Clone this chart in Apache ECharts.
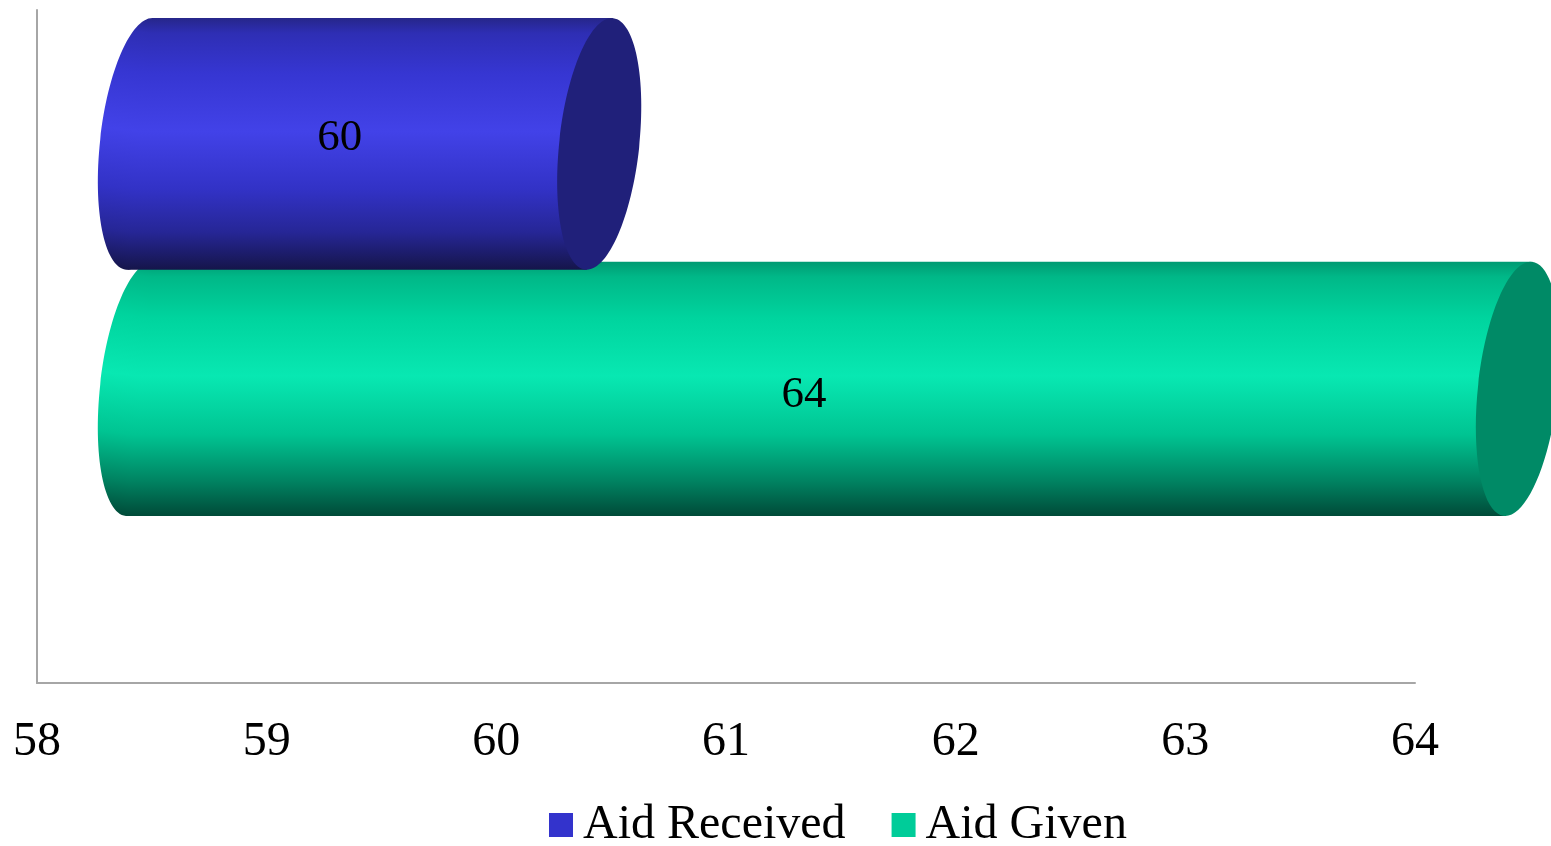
<!DOCTYPE html>
<html>
<head>
<meta charset="utf-8">
<script src="https://cdn.jsdelivr.net/npm/echarts@6/dist/echarts.min.js"></script>
<style>
html,body{margin:0;padding:0;background:#fff;}
#chart{width:1551px;height:846px;}
</style>
</head>
<body>
<div id="chart"></div>
<script>
// ---- data ----
const categories = ['Aid'];
const seriesNames = ['Aid Received', 'Aid Given'];
const aidReceived = [60];
const aidGiven = [64];
const xTicks = [58, 59, 60, 61, 62, 63, 64];

// ---- style ----
const FONT = '"Liberation Serif", "Times New Roman", serif';
const DX = 103;          // 3D depth shift in px
const TILT = -0.11;      // ellipse tilt (rad)

function cylinderRenderer(topFrac, botFrac, capColor, stops, labelDx, labelDy) {
  return function (params, api) {
    const v = api.value(0);
    const cat = api.value(1);
    const start = api.coord([xTicks[0], cat]);
    const end = api.coord([v, cat]);
    const band = api.size([0, 1])[1];
    const bandTop = start[1] - band / 2;
    const top = bandTop + topFrac * band;
    const bot = bandTop + botFrac * band;
    const cy = (top + bot) / 2;
    const H = (bot - top) / 2;
    const rx = 40;
    const c = Math.cos(TILT), s = Math.sin(TILT);
    const ry = Math.sqrt(Math.max(H * H - rx * rx * s * s, 1) / (c * c));
    const tx = (ry * ry - rx * rx) * Math.abs(s) * c / Math.sqrt(ry * ry * c * c + rx * rx * s * s);
    const x0 = start[0] + DX;
    const x1 = end[0] + DX;
    return {
      type: 'group',
      children: [
        {
          type: 'ellipse',
          x: x0, y: cy, rotation: TILT,
          shape: { cx: 0, cy: 0, rx: rx, ry: ry },
          style: { fill: new echarts.graphic.LinearGradient(0, 0, 0, 1, stops) }
        },
        {
          type: 'polygon',
          shape: { points: [[x0 + tx, top], [x1 + tx, top], [x1 - tx, bot], [x0 - tx, bot]] },
          style: { fill: new echarts.graphic.LinearGradient(0, 0, 0, 1, stops) }
        },
        {
          type: 'ellipse',
          x: x1, y: cy, rotation: TILT,
          shape: { cx: 0, cy: 0, rx: rx, ry: ry },
          style: { fill: capColor }
        },
        {
          type: 'text',
          x: (x0 + x1) / 2 + labelDx, y: cy + labelDy,
          style: {
            text: String(v), fill: '#000',
            fontSize: 45, fontFamily: FONT,
            align: 'center', verticalAlign: 'middle'
          }
        }
      ]
    };
  };
}

const blueStops = [
  { offset: 0, color: '#26268a' },
  { offset: 0.06, color: '#2e2eb4' },
  { offset: 0.22, color: '#3636d2' },
  { offset: 0.45, color: '#4242e8' },
  { offset: 0.68, color: '#3232c6' },
  { offset: 0.85, color: '#262696' },
  { offset: 1, color: '#15154a' }
];
const greenStops = [
  { offset: 0, color: '#009a72' },
  { offset: 0.06, color: '#00b888' },
  { offset: 0.22, color: '#00d49e' },
  { offset: 0.45, color: '#08e8b2' },
  { offset: 0.68, color: '#00c492' },
  { offset: 0.86, color: '#008462' },
  { offset: 1, color: '#004a38' }
];

const chart = echarts.init(document.getElementById('chart'));
chart.setOption({
  animation: false,
  backgroundColor: '#fff',
  grid: { left: 37, right: 136, top: 10, bottom: 163 },
  legend: {
    data: seriesNames,
    left: 544, top: 796,
    icon: 'rect', itemWidth: 24, itemHeight: 24, itemGap: 46,
    textStyle: { fontSize: 48, fontFamily: FONT, color: '#000', padding: [0, 0, 0, 5] }
  },
  xAxis: {
    type: 'value', min: xTicks[0], max: xTicks[xTicks.length - 1], interval: 1,
    axisLine: { show: true, lineStyle: { color: '#a6a6a6', width: 2 } },
    axisTick: { show: false },
    splitLine: { show: false },
    axisLabel: { fontSize: 48, fontFamily: FONT, color: '#000', margin: 35 }
  },
  yAxis: {
    type: 'category', data: categories,
    axisLine: { show: true, lineStyle: { color: '#a6a6a6', width: 2 } },
    axisTick: { show: false },
    axisLabel: { show: false },
    splitLine: { show: false }
  },
  series: [
    {
      name: seriesNames[0], type: 'custom', z: 3,
      itemStyle: { color: '#3333cc' },
      encode: { x: 0, y: 1 },
      data: aidReceived.map((v, i) => [v, i]),
      renderItem: cylinderRenderer(0.012, 0.386, '#20207a', blueStops, -30, -6)
    },
    {
      name: seriesNames[1], type: 'custom', z: 2,
      itemStyle: { color: '#00cc99' },
      encode: { x: 0, y: 1 },
      data: aidGiven.map((v, i) => [v, i]),
      renderItem: cylinderRenderer(0.374, 0.752, '#008a66', greenStops, -25, 6)
    }
  ]
});
</script>
</body>
</html>
